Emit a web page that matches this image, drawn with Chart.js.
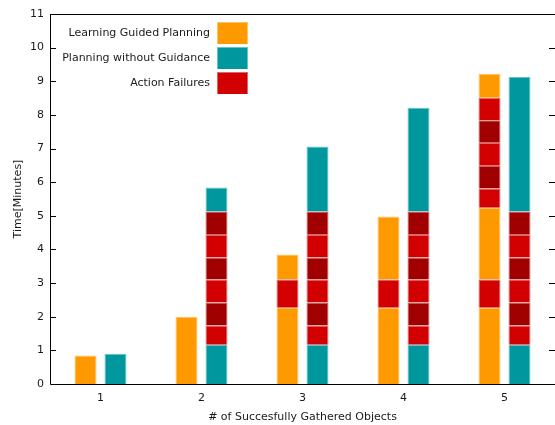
<!DOCTYPE html>
<html>
<head>
<meta charset="utf-8">
<script src="https://cdn.jsdelivr.net/npm/chart.js@4/dist/chart.umd.min.js"></script>
<style>
  body { margin: 0; background: #fff; }
  #wrap { width: 555px; height: 425px; }
</style>
</head>
<body>
<div id="wrap"><canvas id="timeChart" width="555" height="425"></canvas></div>
<script>
// x positions = number of successfully gathered objects
const categories = [1, 2, 3, 4, 5];
const yTicks = [0, 1, 2, 3, 4, 5, 6, 7, 8, 9, 10, 11];

// Learning guided planning stack, bottom to top (minutes)
const guidedPlan1 = [0.85, 2.00, 2.27, 2.27, 2.27];
const guidedFail1 = [null, null, 0.84, 0.84, 0.84];
const guidedPlan2 = [null, null, 0.74, 1.87, 2.13];
const guidedFail2 = [null, null, null, null, 0.57];
const guidedFail3 = [null, null, null, null, 0.68];
const guidedFail4 = [null, null, null, null, 0.68];
const guidedFail5 = [null, null, null, null, 0.67];
const guidedFail6 = [null, null, null, null, 0.67];
const guidedPlan3 = [null, null, null, null, 0.71];

// Planning without guidance stack, bottom to top (minutes)
const plainPlan1 = [0.90, 1.17, 1.17, 1.17, 1.17];
const plainFail1 = [null, 0.57, 0.57, 0.57, 0.57];
const plainFail2 = [null, 0.68, 0.68, 0.68, 0.68];
const plainFail3 = [null, 0.69, 0.69, 0.69, 0.69];
const plainFail4 = [null, 0.65, 0.65, 0.65, 0.65];
const plainFail5 = [null, 0.68, 0.68, 0.68, 0.68];
const plainFail6 = [null, 0.69, 0.69, 0.69, 0.69];
const plainPlan2 = [null, 0.71, 1.93, 3.08, 4.00];

const legendLabels = ['Learning Guided Planning', 'Planning without Guidance', 'Action Failures'];

const ORANGE = '#ff9900', ORANGE_EDGE = '#ffc266';
const TEAL = '#00979f', TEAL_EDGE = '#66c4c9';
const RED = '#d20000', RED_EDGE = '#e36666';
const DARK = '#a00000', DARK_EDGE = '#c46060';
const FONT = '"DejaVu Sans", sans-serif';
const TEXT = '#1a1a1a';

function makeSet(values, stack, fill, edge) {
    return {
        data: categories.map((c, i) => ({ x: c, y: values[i] })),
        stack: stack,
        backgroundColor: fill,
        borderColor: edge,
        borderWidth: 1,
        borderSkipped: 'start'
    };
}

const datasets = [
    makeSet(guidedPlan1, 'guided', ORANGE, ORANGE_EDGE),
    makeSet(guidedFail1, 'guided', RED, RED_EDGE),
    makeSet(guidedPlan2, 'guided', ORANGE, ORANGE_EDGE),
    makeSet(guidedFail2, 'guided', RED, RED_EDGE),
    makeSet(guidedFail3, 'guided', DARK, DARK_EDGE),
    makeSet(guidedFail4, 'guided', RED, RED_EDGE),
    makeSet(guidedFail5, 'guided', DARK, DARK_EDGE),
    makeSet(guidedFail6, 'guided', RED, RED_EDGE),
    makeSet(guidedPlan3, 'guided', ORANGE, ORANGE_EDGE),
    makeSet(plainPlan1, 'plain', TEAL, TEAL_EDGE),
    makeSet(plainFail1, 'plain', RED, RED_EDGE),
    makeSet(plainFail2, 'plain', DARK, DARK_EDGE),
    makeSet(plainFail3, 'plain', RED, RED_EDGE),
    makeSet(plainFail4, 'plain', DARK, DARK_EDGE),
    makeSet(plainFail5, 'plain', RED, RED_EDGE),
    makeSet(plainFail6, 'plain', DARK, DARK_EDGE),
    makeSet(plainPlan2, 'plain', TEAL, TEAL_EDGE)
];

// frame, inner ticks, axis titles and the key box
const framePlugin = {
    id: 'frame',
    afterDraw(chart) {
        const ctx = chart.ctx;
        const a = chart.chartArea;
        const ys = chart.scales.y;
        ctx.save();
        ctx.strokeStyle = '#000';
        ctx.lineWidth = 1;
        ctx.beginPath();
        ctx.moveTo(a.left + 0.5, a.top + 0.5);
        ctx.lineTo(a.right, a.top + 0.5);
        ctx.moveTo(a.left + 0.5, a.top);
        ctx.lineTo(a.left + 0.5, a.bottom + 0.5);
        ctx.lineTo(a.right, a.bottom + 0.5);
        yTicks.forEach(t => {
            if (t === 0 || t === 11) return;
            const py = Math.round(ys.getPixelForValue(t)) + 0.5;
            ctx.moveTo(a.left, py);
            ctx.lineTo(a.left + 6, py);
            ctx.moveTo(a.right, py);
            ctx.lineTo(a.right - 6, py);
        });
        ctx.stroke();

        ctx.fillStyle = TEXT;
        ctx.font = '11px ' + FONT;
        ctx.textAlign = 'center';
        ctx.textBaseline = 'middle';
        ctx.fillText('# of Succesfully Gathered Objects', (a.left + a.right) / 2, 417);
        ctx.save();
        ctx.translate(18, (a.top + a.bottom) / 2);
        ctx.rotate(-Math.PI / 2);
        ctx.fillText('Time[Minutes]', 0, 0);
        ctx.restore();

        const keyFills = [ORANGE, TEAL, RED];
        const keyEdges = [ORANGE_EDGE, TEAL_EDGE, RED_EDGE];
        ctx.textAlign = 'right';
        legendLabels.forEach((label, i) => {
            const cy = 33 + i * 25;
            ctx.fillStyle = TEXT;
            ctx.fillText(label, 210, cy);
            ctx.fillStyle = keyEdges[i];
            ctx.fillRect(217, cy - 11, 31, 22);
            ctx.fillStyle = keyFills[i];
            ctx.fillRect(218, cy - 10, 29, 21);
        });
        ctx.restore();
    }
};

new Chart(document.getElementById('timeChart'), {
    type: 'bar',
    data: { datasets: datasets },
    options: {
        responsive: false,
        animation: false,
        categoryPercentage: 0.594,
        barPercentage: 0.733,
        layout: { padding: { top: 14, right: 0, left: 0, bottom: 0 } },
        plugins: {
            legend: { display: false },
            tooltip: { enabled: false }
        },
        scales: {
            x: {
                type: 'linear',
                min: 0.5,
                max: 5.5,
                stacked: true,
                offset: false,
                grid: { display: false, drawTicks: false },
                border: { display: false },
                afterBuildTicks: axis => { axis.ticks = categories.map(v => ({ value: v })); },
                ticks: { color: TEXT, font: { family: FONT, size: 11 }, padding: 8, maxRotation: 0 },
                afterFit: axis => { axis.height = 41; }
            },
            y: {
                min: 0,
                max: 11,
                stacked: true,
                grid: { display: false, drawTicks: false },
                border: { display: false },
                afterBuildTicks: axis => { axis.ticks = yTicks.map(v => ({ value: v })); },
                ticks: { color: TEXT, font: { family: FONT, size: 11 }, padding: 6 },
                afterFit: axis => { axis.width = 50; }
            }
        }
    },
    plugins: [framePlugin]
});
</script>
</body>
</html>
